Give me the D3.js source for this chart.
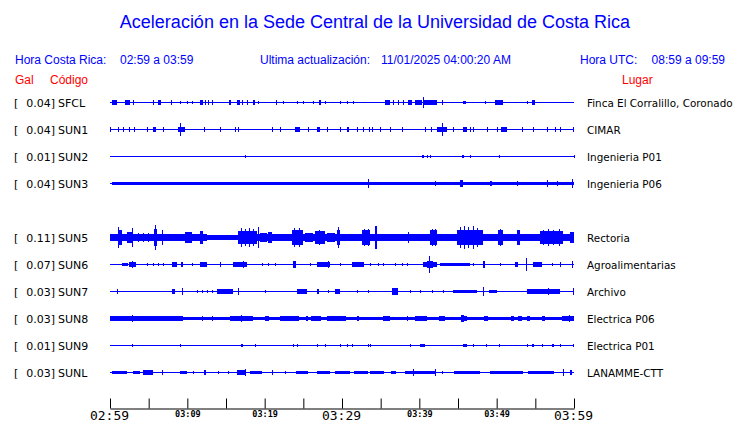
<!DOCTYPE html>
<html><head><meta charset="utf-8">
<script src="https://cdn.jsdelivr.net/npm/d3@7"></script>
<style>
body{margin:0;background:#fff;}
svg{display:block;}
</style></head>
<body><svg id="c" width="740" height="423"></svg>
<script>
// ---------- data ----------
const title = "Aceleración en la Sede Central de la Universidad de Costa Rica";
const horaCR = ["Hora Costa Rica:", "02:59 a 03:59"];
const actualizacion = ["Ultima actualización:", "11/01/2025 04:00:20 AM"];
const horaUTC = ["Hora UTC:", "08:59 a 09:59"];
const rowOrder = ["SFCL","SUN1","SUN2","SUN3","SUN4","SUN5","SUN6","SUN7","SUN8","SUN9","SUNL"];
const codes = ["SFCL","SUN1","SUN2","SUN3","SUN5","SUN6","SUN7","SUN8","SUN9","SUNL"];
const peaks = [0.04,0.04,0.01,0.04,0.11,0.07,0.03,0.03,0.01,0.03];
const places = ["Finca El Corralillo, Coronado","CIMAR","Ingenieria P01","Ingenieria P06","Rectoria","Agroalimentarias","Archivo","Electrica P06","Electrica P01","LANAMME-CTT"];
const tickMinutes = [0,5,10,15,20,25,30,35,40,45,50,55,60];
const tickLabels = ["02:59","","03:09","","03:19","","03:29","","03:39","","03:49","","03:59"];
const majorTicks = ["02:59","03:29","03:59"];
// envelope segments per station: [start minute, end minute, half amplitude (Gal)]
const SFCL = [[0.3,0.9,0.014],[1.9,2.6,0.016],[3.0,3.0,0.016],[5.6,5.6,0.016],[6.2,6.6,0.016],[7.9,7.9,0.016],[9.1,9.1,0.012],[10,10,0.012],[10.6,10.6,0.012],[11.6,12.0,0.016],[12.3,12.3,0.016],[12.7,12.7,0.016],[13.2,13.2,0.016],[15.4,15.6,0.014],[16.4,16.8,0.016],[17.1,17.1,0.016],[17.7,17.7,0.016],[18.5,18.7,0.016],[19.1,19.1,0.012],[21.5,21.5,0.016],[22.4,22.4,0.012],[24.2,24.2,0.012],[25.0,25.0,0.012],[26.3,26.3,0.012],[27.0,27.3,0.014],[27.8,27.8,0.012],[29.7,29.7,0.012],[30.7,30.7,0.012],[31.4,31.4,0.012],[35.6,36.2,0.014],[36.6,36.6,0.016],[37.2,37.2,0.016],[37.9,37.9,0.016],[38.5,39.1,0.014],[39.4,40.3,0.016],[40.5,40.5,0.046],[40.5,42.3,0.016],[42.9,42.9,0.016],[45.6,46.0,0.012],[48.5,48.5,0.012],[49.8,50.8,0.014],[53.9,53.9,0.012],[54.6,55.0,0.014]];
const SUN1 = [[0,0,0.02],[1.0,1.0,0.02],[1.7,1.7,0.02],[2.5,2.5,0.02],[3.1,3.1,0.02],[4.8,4.8,0.014],[5.6,5.9,0.016],[6.9,6.9,0.014],[8.8,9.7,0.022],[9.0,9.0,0.055],[12.2,12.3,0.016],[14.2,14.2,0.014],[16.2,16.2,0.014],[16.6,16.6,0.02],[21.0,21.0,0.014],[22.0,22.0,0.014],[23.9,24.6,0.016],[25.6,25.6,0.014],[26.8,27.2,0.016],[28.1,28.1,0.014],[29.7,29.7,0.014],[30.6,30.9,0.016],[31.9,31.9,0.014],[32.7,32.7,0.014],[33.5,33.5,0.014],[33.9,33.9,0.014],[34.9,34.9,0.014],[36.2,36.2,0.014],[37.8,37.8,0.014],[40.7,40.7,0.014],[41.5,41.5,0.016],[42.3,43.6,0.02],[42.9,42.9,0.055],[44.4,44.4,0.014],[45.6,46.2,0.016],[46.5,46.5,0.014],[46.9,46.9,0.014],[48.7,48.7,0.014],[50.0,50.0,0.014],[50.6,51.3,0.014],[53.3,53.3,0.014],[54.7,54.7,0.014],[56.5,56.5,0.014],[57.5,57.5,0.014],[58.2,58.2,0.014],[59.9,59.9,0.014]];
const SUN2 = [[17.5,17.5,0.009],[40.3,40.6,0.009],[41.0,41.0,0.009],[41.4,41.4,0.009],[45.5,45.8,0.01],[46.6,46.6,0.008],[50.3,50.3,0.009],[60,60,0.009]];
const SUN3 = [[0.3,12.2,0.012],[12.2,13.6,0.007],[13.6,25.5,0.012],[25.5,26.5,0.009],[26.5,45.0,0.012],[45.0,60,0.013],[33.4,33.4,0.04],[45.3,45.6,0.032],[42.0,42.0,0.02],[49.2,49.4,0.022],[52.6,52.8,0.02],[56.5,56.6,0.028],[57.8,57.8,0.022],[59.7,59.9,0.035]];
const SUN5 = [[0,12.5,0.025],[12.5,16.5,0.018],[16.5,60,0.025],
  [1.0,1.6,0.064],[1.03,1.03,0.092],[2.2,3.0,0.045],[2.8,2.8,0.083],[3.6,3.6,0.035],[4.3,4.3,0.035],[4.9,4.9,0.035],
  [5.7,6.1,0.07],[5.8,5.8,0.11],[6.7,6.85,0.064],[9.7,10.6,0.042],[11.6,12.0,0.055],
  [16.55,19.0,0.055],[17.0,17.0,0.08],[17.5,17.5,0.07],[18.0,18.0,0.083],[18.5,18.5,0.07],[19.1,19.2,0.092],[19.4,20.3,0.037],[20.4,20.9,0.046],
  [23.5,25.0,0.06],[23.8,23.8,0.083],[24.4,24.4,0.08],[25.2,26.2,0.037],[26.5,27.8,0.055],[27.0,27.0,0.064],[28.1,29.1,0.037],[29.35,29.75,0.06],[29.5,29.5,0.092],
  [32.6,33.6,0.06],[32.9,32.9,0.073],[33.3,33.3,0.073],[34.3,34.5,0.1],[38.5,38.6,0.046],
  [41.4,42.3,0.06],[41.6,41.6,0.073],[42.0,42.0,0.07],[42.4,44.8,0.032],[44.9,48.2,0.06],[45.2,45.2,0.09],[45.8,45.8,0.1],[46.3,46.3,0.09],[46.9,46.9,0.1],[47.5,47.5,0.08],
  [50.2,50.8,0.06],[50.4,50.4,0.073],[52.6,53.0,0.06],[55.6,58.6,0.055],[56.0,56.0,0.064],[56.6,56.6,0.07],[57.3,57.3,0.064],[58.0,58.0,0.07],[59.5,60,0.046]];
const SUN6 = [[1.6,2.3,0.012],[2.4,3.3,0.016],[2.9,2.9,0.028],[4.8,4.8,0.012],[5.6,5.6,0.012],[6.2,6.2,0.012],[6.9,6.9,0.012],[8.0,8.7,0.014],[9.2,9.4,0.014],[10.6,10.6,0.012],[11.6,12.6,0.014],[14.2,14.2,0.014],[15.9,17.7,0.014],[17.2,17.2,0.028],[19.7,19.7,0.012],[20.4,20.4,0.012],[21.3,21.3,0.012],[23.7,24.0,0.024],[25.8,25.8,0.012],[26.8,28.5,0.014],[28.2,28.2,0.028],[29.7,29.7,0.012],[31.3,32.8,0.014],[33.6,33.6,0.012],[34.7,34.7,0.012],[35.3,35.3,0.012],[36.9,36.9,0.012],[37.8,37.8,0.012],[38.4,38.4,0.012],[40.5,42.3,0.016],[41.0,41.8,0.032],[41.3,41.3,0.073],[42.7,46.5,0.012],[46.9,46.9,0.012],[48.2,48.5,0.024],[50.4,50.4,0.012],[52.4,52.8,0.014],[53.8,53.8,0.055],[54.7,55.9,0.014],[57.2,57.2,0.012],[58.2,58.2,0.014],[59.8,59.8,0.026]];
const SUN7 = [[0.9,0.9,0.016],[8.0,8.4,0.014],[9.3,9.3,0.026],[11.2,11.2,0.012],[11.9,11.9,0.012],[12.5,12.5,0.012],[13.2,13.2,0.012],[13.8,15.9,0.016],[16.6,16.6,0.03],[20.0,20.0,0.012],[24.2,25.5,0.014],[26.8,27.0,0.016],[28.2,28.2,0.012],[29.1,29.8,0.016],[31.9,31.9,0.012],[33.4,33.4,0.012],[36.5,37.2,0.024],[38.8,38.8,0.012],[40.1,40.1,0.012],[41.6,41.6,0.012],[43.0,43.0,0.012],[44.4,47.4,0.012],[48.2,48.2,0.035],[49.0,50.0,0.012],[53.9,58.2,0.014],[56.6,56.6,0.026],[59.9,59.9,0.026]];
const SUN8 = [[0,9.4,0.014],[9.4,30,0.008],[30,60,0.012],[2.8,2.8,0.026],[11.9,11.9,0.016],[13.2,13.2,0.016],[15.5,18.5,0.014],[16.9,16.9,0.026],[20,20.5,0.014],[22.0,24.5,0.014],[25.3,25.6,0.014],[26,27.3,0.016],[28.0,29.8,0.014],[29.8,30.5,0.014],[31.9,32.2,0.016],[35.3,36.2,0.016],[38.4,38.4,0.016],[39.4,41.0,0.016],[42.6,43.3,0.016],[45.4,45.8,0.026],[45.8,46.2,0.016],[48.4,48.9,0.016],[51.8,52.3,0.016],[52.8,53.3,0.016],[53.9,54.3,0.018],[55.8,56.2,0.016],[58.5,60,0.018],[59.3,59.3,0.026]];
const SUN9 = [[2.8,2.8,0.012],[9.0,9.0,0.009],[17.0,17.2,0.01],[18.7,18.7,0.01],[23.7,23.7,0.01],[24.2,24.2,0.01],[26.8,26.8,0.009],[27.8,27.8,0.009],[29.7,29.7,0.009],[30.6,30.6,0.01],[31.3,31.3,0.009],[33.4,33.4,0.009],[33.6,33.6,0.01],[38.8,38.8,0.009],[40.1,40.7,0.01],[45.6,46.1,0.01],[46.9,46.9,0.009],[48.6,48.6,0.009],[50.3,50.3,0.009],[53.9,53.9,0.009],[54.6,54.8,0.01],[55.9,55.9,0.009],[57.2,57.4,0.01],[58.2,58.2,0.009],[59.9,59.9,0.012]];
const SUNL = [[0.2,2.2,0.013],[3.0,3.9,0.013],[4.3,5.6,0.016],[6.7,6.7,0.016],[9.1,9.9,0.013],[10.7,10.7,0.012],[12.2,12.4,0.014],[14.0,14.0,0.012],[15.3,15.3,0.012],[16.4,17.5,0.014],[17.5,17.5,0.028],[18.1,19.7,0.013],[20.9,21.0,0.014],[22.6,22.6,0.012],[24.0,25.6,0.013],[26.8,28.4,0.013],[29.1,31.0,0.013],[31.6,33.3,0.013],[33.6,35.4,0.013],[36.4,37.0,0.012],[38.1,42.2,0.013],[39.2,39.2,0.026],[42.0,42.0,0.026],[42.9,42.9,0.012],[44.5,47.8,0.013],[49.1,53.4,0.013],[54.0,57.4,0.013],[58.6,58.6,0.026],[59.5,59.7,0.014]];
const traces = [SFCL,SUN1,SUN2,SUN3,SUN5,SUN6,SUN7,SUN8,SUN9,SUNL];

// ---------- drawing ----------
const svg = d3.select("#c");
const BLUE = "#0000ff", RED = "#ff0000";
const x = d3.scaleLinear().domain([0,60]).range([110,574]);
const y = d3.scalePoint().domain(rowOrder).range([102.5,372.5]);
const amp = d3.scaleLinear().domain([0,0.11]).range([0,12]);

svg.append("text").attr("x",375).attr("y",28).attr("text-anchor","middle")
  .attr("font-family","Liberation Sans, Arial, sans-serif").attr("font-size",18)
  .attr("fill",BLUE).text(title);

const hdr = svg.append("g").attr("font-family","Liberation Sans, Arial, sans-serif").attr("font-size",12).attr("fill",BLUE);
hdr.append("text").attr("x",15).attr("y",64).text(horaCR[0]);
hdr.append("text").attr("x",120).attr("y",64).text(horaCR[1]);
hdr.append("text").attr("x",260).attr("y",64).text(actualizacion[0]);
hdr.append("text").attr("x",381).attr("y",64).text(actualizacion[1]);
hdr.append("text").attr("x",580).attr("y",64).text(horaUTC[0]);
hdr.append("text").attr("x",725).attr("y",64).attr("text-anchor","end").text(horaUTC[1]);

const red = svg.append("g").attr("font-family","Liberation Sans, Arial, sans-serif").attr("font-size",12).attr("fill",RED);
red.append("text").attr("x",15).attr("y",84).text("Gal");
red.append("text").attr("x",50).attr("y",84).text("Código");
red.append("text").attr("x",622).attr("y",84).text("Lugar");

const rows = svg.append("g").selectAll("g").data(codes).join("g")
  .attr("transform", d => `translate(0,${y(d)})`);

const lab = (sel) => sel.attr("font-family","DejaVu Sans, sans-serif").attr("font-size",11).attr("fill","#000");
rows.append("text").attr("x",14).attr("y",4).call(lab).text("[");
rows.append("text").attr("x",55).attr("y",4).attr("text-anchor","end").call(lab)
  .text((d,i) => peaks[i].toFixed(2) + "]");
rows.append("text").attr("x",58).attr("y",4).call(lab).text(d => d);
rows.append("text").attr("x",587).attr("y",4).call(lab).attr("font-size",10.4)
  .text((d,i) => places[i]);

rows.append("line").attr("x1",x(0)).attr("x2",x(60)).attr("y1",0).attr("y2",0)
  .attr("stroke",BLUE).attr("stroke-width",1);

rows.each(function(d,i){
  d3.select(this).selectAll("rect").data(traces[i]).join("rect")
    .attr("x", s => x(s[0]))
    .attr("width", s => Math.max(1, x(s[1]) - x(s[0])))
    .attr("y", s => -0.5 - amp(s[2]))
    .attr("height", s => 1 + 2*amp(s[2]))
    .attr("fill", BLUE).attr("shape-rendering","crispEdges");
});

const isMajor = (i) => majorTicks.includes(tickLabels[i]);
const axis = d3.axisBottom(x).tickValues(tickMinutes).tickSize(-10).tickSizeOuter(0)
  .tickFormat((d,i) => tickLabels[i]);
const ag = svg.append("g").attr("transform","translate(0,408.5)").call(axis);
ag.select(".domain").attr("stroke","#000");
ag.selectAll(".tick line").attr("stroke","#000");
ag.selectAll(".tick text").attr("fill","#000")
  .attr("font-family", "DejaVu Sans Mono, monospace")
  .attr("font-weight", (d,i) => isMajor(i) ? "normal" : "bold")
  .attr("font-size", (d,i) => isMajor(i) ? 13 : 8.5)
  .attr("y", 2)
  .attr("dx", (d,i) => isMajor(i) ? -1 : 0)
  .attr("dy", "0.71em");
</script></body></html>
